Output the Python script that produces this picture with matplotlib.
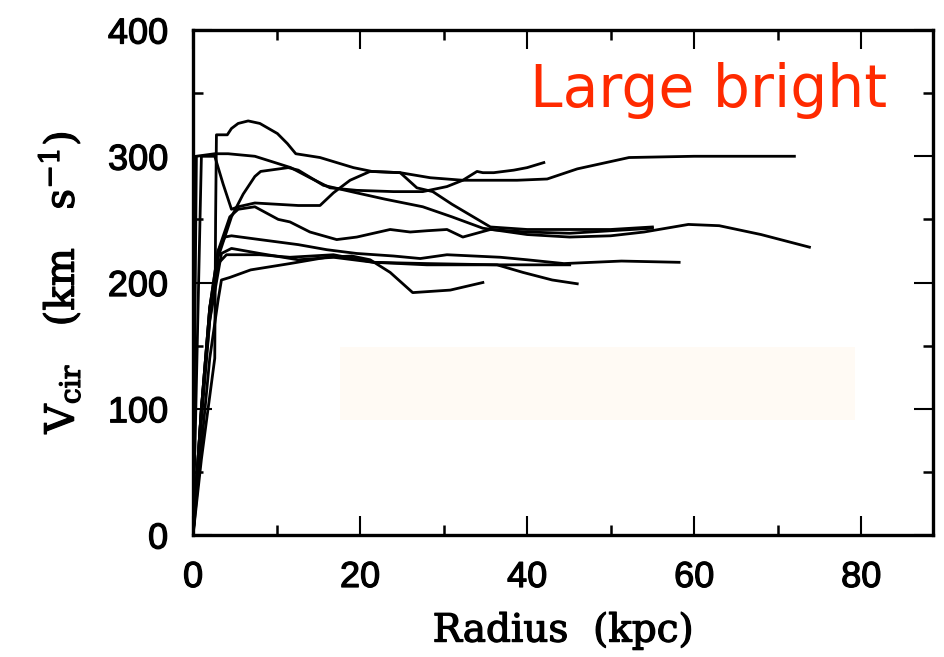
import matplotlib
matplotlib.use("Agg")
import matplotlib.pyplot as plt
from matplotlib.ticker import MultipleLocator
from matplotlib.patches import Rectangle
import matplotlib.patheffects as pe

# ---- data (radius kpc, circular velocity km/s) ----
a_r = [0, 0.2, 0.4, 2.6, 4.2, 7.4, 9.8, 11.7, 14, 16.4, 19.6, 24, 27.5, 30.4, 32.3, 38.8, 42.4, 46, 52.2, 60, 72]
a_v = [0, 150, 300, 302, 302, 300, 295, 291, 283, 275, 273, 272, 272, 276, 281, 281, 282, 290, 299, 300, 300]

b_r = [0, 1, 2, 2.6, 2.7, 2.8, 4.1, 4.6, 5.4, 6.6, 8, 10.1, 11.3, 12.3, 15.2, 19.2, 21.4, 24.8, 28.4, 32.3, 34, 34.7, 36, 37.2, 38.4, 40, 42]
b_v = [0, 60, 110, 140, 250, 317, 317, 322, 326, 328, 326, 318, 310, 302, 299, 291, 288, 287, 283, 281, 288, 287, 287, 288, 289, 291, 295]

c_r = [0, 1, 2, 3, 4.6, 6, 7.4, 8.1, 11.4, 12.6, 15.6, 19.6, 23, 27.5, 31, 34.7, 40, 45.1, 50, 54, 59.3, 63, 68, 73.8]
c_v = [0, 100, 170, 220, 252, 270, 284, 288, 291, 289, 277, 271, 266, 260, 252, 243, 238, 236, 237, 240, 246, 245, 238, 228]

d_r = [0, 0.5, 1, 2.6, 3.6, 4.6, 5.4, 7.4, 12.6, 15.2, 16.8, 18.8, 21.2, 24.8, 26.8, 28.7, 31, 35.6, 40, 45.1, 50, 55]
d_v = [0, 150, 300, 300, 278, 258, 260, 263, 261, 261, 271, 281, 288, 287, 275, 272, 262, 244, 242, 242, 242, 244]

e_r = [0, 1, 2, 3, 4.4, 5.4, 7.4, 10.2, 11.6, 14, 17.2, 19.6, 23.6, 26, 28, 30.4, 32.3, 35.6, 40, 45.1, 50, 55]
e_v = [0, 100, 180, 225, 252, 258, 260, 250, 248, 240, 234, 236, 242, 240, 241, 242, 236, 242, 240, 239, 241, 243]

f_r = [0, 1, 2, 3, 3.8, 4.6, 8, 12.6, 16, 19.6, 24, 27.2, 30.4, 36.8, 40, 44.4, 51.3, 58.2]
f_v = [0, 100, 180, 225, 236, 237, 234, 230, 226, 223, 221, 219, 222, 220, 218, 215, 217, 216]

g_r = [0, 1, 2, 3.4, 4.6, 8, 12.6, 16.8, 21.6, 28, 36.4, 39.5, 43, 46]
g_v = [0, 90, 170, 223, 227, 223, 218, 220, 216, 215, 214, 208, 202, 199]

h_r = [0, 1, 2, 3, 3.4, 4.4, 6.9, 11.6, 16, 19, 21.2, 23.6, 26.3, 30.8, 34.7]
h_v = [0, 70, 140, 186, 202, 204, 210, 215, 220, 221, 218, 208, 192, 194, 200]

i_r = [0, 1, 2, 3, 4, 8, 11.6, 16.8, 21.6, 28, 35.6, 45.1]
i_v = [0, 100, 180, 215, 222, 222, 220, 222, 216, 214, 214, 214]

curves = [(a_r, a_v), (b_r, b_v), (c_r, c_v), (d_r, d_v), (e_r, e_v),
          (f_r, f_v), (g_r, g_v), (h_r, h_v), (i_r, i_v)]

x_ticks = [0, 20, 40, 60, 80]
y_ticks = [0, 100, 200, 300, 400]

# ---- figure ----
plt.rcParams['mathtext.fontset'] = 'dejavuserif'
fig = plt.figure(figsize=(9.44, 6.57), dpi=100)
ax = fig.add_axes([0.2045, 0.1857, 0.7839, 0.7686])

# faint tint patch seen in the image
ax.add_patch(Rectangle((17.6, 91), 61.7, 58, facecolor='#fffaf4', edgecolor='none', zorder=0))

for r, v in curves:
    ax.plot(r, v, color='black', lw=2.0, solid_joinstyle='round', zorder=2)

ax.set_xlim(0, 88.6)
ax.set_ylim(0, 400)
ax.set_xticks(x_ticks)
ax.set_yticks(y_ticks)
ax.xaxis.set_minor_locator(MultipleLocator(10))
ax.yaxis.set_minor_locator(MultipleLocator(50))
ax.tick_params(which='both', direction='in', top=True, right=True, color='black')
ax.tick_params(which='major', length=14, width=1.5)
ax.tick_params(which='minor', length=7, width=1.8)
ax.tick_params(axis='x', which='major', pad=18)
ax.tick_params(axis='y', which='major', pad=18)
thick = [pe.withStroke(linewidth=0.9, foreground='black')]
for lab in ax.get_xticklabels() + ax.get_yticklabels():
    lab.set_fontfamily('Liberation Sans')
    lab.set_fontsize(26)
    lab.set_path_effects(thick)
for s in ax.spines.values():
    s.set_linewidth(2.4)

xl = ax.set_xlabel('Radius  (kpc)', fontfamily='DejaVu Serif', fontsize=28, labelpad=12)
yl = ax.set_ylabel(r'V$_{\mathrm{cir}}$   (km   s$^{-1}$)', fontfamily='DejaVu Serif',
                   fontsize=29, labelpad=18)
xl.set_path_effects(thick)
yl.set_path_effects(thick)

ax.text(0.938, 0.881, 'Large bright', transform=ax.transAxes, ha='right', va='center',
        color='#ff2a00', fontsize=42, fontfamily='DejaVu Sans')

fig.savefig('out.png', dpi=100)
